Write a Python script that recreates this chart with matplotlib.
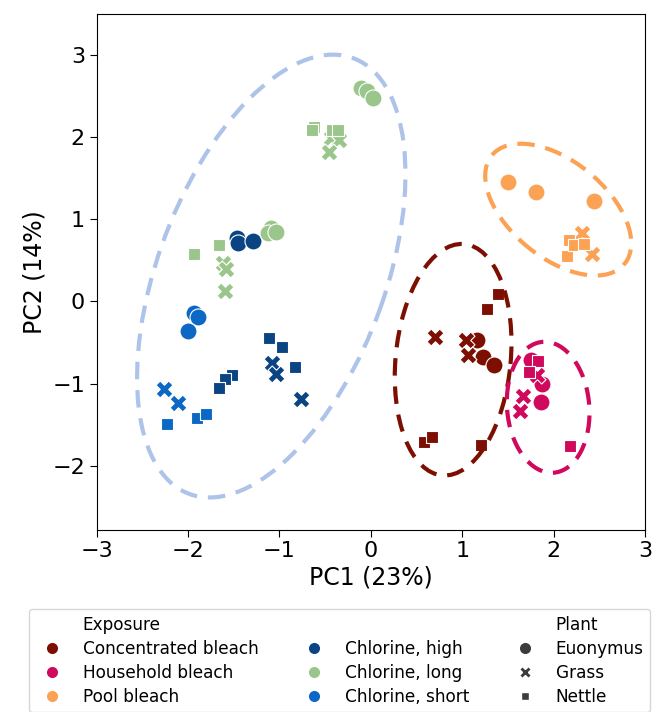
import numpy as np
import matplotlib
matplotlib.use("Agg")
import matplotlib.pyplot as plt
from matplotlib.patches import Ellipse
from matplotlib.lines import Line2D

# PCA scores per sample
exposure = (
    ["Concentrated bleach"] * 11
    + ["Household bleach"] * 9
    + ["Pool bleach"] * 9
    + ["Chlorine, high"] * 12
    + ["Chlorine, long"] * 18
    + ["Chlorine, short"] * 8
)
plant = (
    ["Euonymus"] * 3 + ["Grass"] * 3 + ["Nettle"] * 5
    + ["Grass"] * 1 + ["Euonymus"] * 3 + ["Grass"] * 2 + ["Nettle"] * 3
    + ["Euonymus"] * 3 + ["Grass"] * 2 + ["Nettle"] * 4
    + ["Euonymus"] * 3 + ["Grass"] * 3 + ["Nettle"] * 6
    + ["Euonymus"] * 6 + ["Grass"] * 6 + ["Nettle"] * 6
    + ["Euonymus"] * 3 + ["Grass"] * 2 + ["Nettle"] * 3
)
pc1 = [
    1.16, 1.23, 1.35, 0.70, 1.04, 1.06, 1.39, 1.27, 0.58, 0.67, 1.21,
    1.82, 1.75, 1.87, 1.86, 1.66, 1.63, 1.83, 1.73, 2.18,
    1.50, 1.81, 2.44, 2.31, 2.42, 2.15, 2.17, 2.22, 2.33,
    -1.47, -1.45, -1.29, -1.08, -1.04, -0.77, -1.11, -0.97, -0.83, -1.52, -1.60, -1.66,
    -0.11, -0.04, 0.02, -1.09, -1.13, -1.04,
    -0.44, -0.35, -0.46, -1.62, -1.58, -1.60,
    -0.62, -0.64, -0.43, -0.36, -1.93, -1.66,
    -1.93, -1.89, -2.00, -2.26, -2.11, -2.23, -1.90, -1.80,
]
pc2 = [
    -0.47, -0.68, -0.77, -0.43, -0.47, -0.65, 0.09, -0.09, -1.71, -1.65, -1.75,
    -0.90, -0.71, -1.00, -1.22, -1.15, -1.33, -0.72, -0.86, -1.76,
    1.46, 1.33, 1.23, 0.83, 0.58, 0.55, 0.75, 0.69, 0.70,
    0.77, 0.71, 0.74, -0.75, -0.88, -1.19, -0.44, -0.56, -0.80, -0.90, -0.95, -1.05,
    2.60, 2.56, 2.48, 0.89, 0.83, 0.85,
    1.99, 1.97, 1.82, 0.47, 0.40, 0.13,
    2.13, 2.09, 2.09, 2.09, 0.58, 0.69,
    -0.14, -0.19, -0.36, -1.07, -1.24, -1.49, -1.42, -1.37,
]

exposure_order = ["Concentrated bleach", "Household bleach", "Pool bleach",
                  "Chlorine, high", "Chlorine, long", "Chlorine, short"]
exposure_colors = ["#7d0f02", "#d1095c", "#fca254", "#0b4483", "#9bc68b", "#0b69c5"]
plant_order = ["Euonymus", "Grass", "Nettle"]
plant_markers = ["o", "X", (4, 0, 45)]

# group ellipses (chlorine treatments together, then each bleach)
ellipse_colors = ["#aec3ea", "#7d0f02", "#d1095c", "#fca254"]
ellipse_cx = [-1.09, 0.90, 1.94, 2.05]
ellipse_cy = [0.31, -0.71, -1.29, 1.12]
ellipse_width = [5.61, 2.83, 1.60, 1.97]
ellipse_height = [2.51, 1.26, 0.90, 1.12]
ellipse_angle = [72.3, 85.3, -86.0, -45.3]

x = np.array(pc1)
y = np.array(pc2)
exp_arr = np.array(exposure)
plant_arr = np.array(plant)

fig = plt.figure(figsize=(6.53, 7.12), dpi=100)
ax = fig.add_axes([0.1481, 0.2563, 0.8397, 0.7235])

for e, c in zip(exposure_order, exposure_colors):
    for p, m in zip(plant_order, plant_markers):
        sel = (exp_arr == e) & (plant_arr == p)
        if sel.any():
            ax.scatter(x[sel], y[sel], s=150, marker=m, color=c,
                       edgecolor="white", linewidth=0.8, zorder=2)

for cx, cy, w, h, a, col in zip(ellipse_cx, ellipse_cy, ellipse_width,
                                ellipse_height, ellipse_angle, ellipse_colors):
    ax.add_patch(Ellipse((cx, cy), w, h, angle=a, fill=False, edgecolor=col,
                         linewidth=3, linestyle=(0, (4.2, 2.6)), zorder=3))

ax.set_xlim(-3, 3)
ax.set_ylim(-2.78, 3.5)
ax.set_xticks([-3, -2, -1, 0, 1, 2, 3])
ax.set_yticks([-2, -1, 0, 1, 2, 3])
ax.tick_params(labelsize=16, length=5)
ax.set_xlabel("PC1 (23%)", fontsize=17, labelpad=3)
ax.set_ylabel("PC2 (14%)", fontsize=17)

handles, labels = [], []
blank = Line2D([], [], linestyle="", marker="")
handles.append(blank); labels.append("Exposure")
for e, c in zip(exposure_order[:3], exposure_colors[:3]):
    handles.append(Line2D([], [], linestyle="", marker="o", color=c,
                          markeredgecolor="white", markersize=9))
    labels.append(e)
handles.append(blank); labels.append("")
for e, c in zip(exposure_order[3:], exposure_colors[3:]):
    handles.append(Line2D([], [], linestyle="", marker="o", color=c,
                          markeredgecolor="white", markersize=9))
    labels.append(e)
handles.append(blank); labels.append("Plant")
for p, m in zip(plant_order, plant_markers):
    handles.append(Line2D([], [], linestyle="", marker=m, color="#3c3c3c",
                          markeredgecolor="white", markersize=9 if m == "o" else 8))
    labels.append(p)

fig.legend(handles, labels, ncol=3, loc="upper left",
           bbox_to_anchor=(28.5 / 653, 1 - 609 / 712), fontsize=12.2,
           frameon=True, borderaxespad=0, labelspacing=0.35,
           columnspacing=2.3)

fig.savefig("out.png", dpi=100)
